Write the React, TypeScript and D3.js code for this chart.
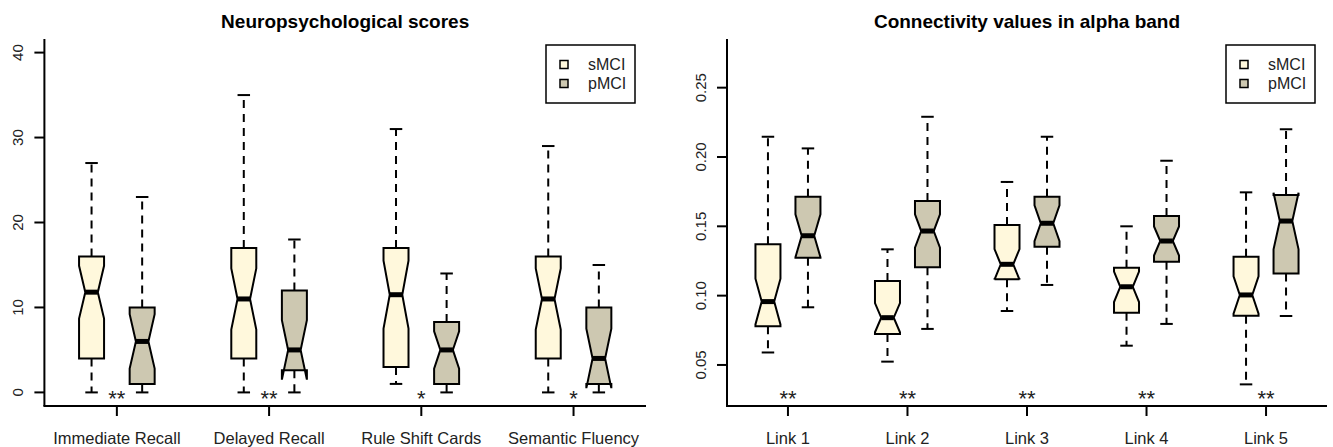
import * as d3 from "d3";
import React, { useEffect } from "react";

// stats per box: [whiskerLow, q1, median, q3, whiskerHigh, notchHalf]
const neuroCategories = ["Immediate Recall", "Delayed Recall", "Rule Shift Cards", "Semantic Fluency"];
const neuroSMCI = [
  [0, 4, 11.8, 16, 27, 3.1],
  [0, 4, 11, 17, 35, 3.6],
  [1, 3, 11.5, 17, 31, 4.0],
  [0, 4, 11, 16, 29, 3.6],
];
const neuroPMCI = [
  [0, 1, 6, 10, 23, 3.2],
  [0, 2.6, 5, 12, 18, 3.5],
  [0, 1, 5, 8.3, 14, 2.2],
  [0, 1, 4, 10, 15, 3.5],
];
const neuroStars = ["**", "**", "*", "*"];
const neuroTicks = [0, 10, 20, 30, 40];

const alphaCategories = ["Link 1", "Link 2", "Link 3", "Link 4", "Link 5"];
const alphaSMCI = [
  [0.059, 0.078, 0.0957, 0.137, 0.2146, 0.0165],
  [0.0524, 0.0724, 0.0841, 0.1106, 0.1334, 0.0105],
  [0.0889, 0.1118, 0.1226, 0.151, 0.182, 0.011],
  [0.0639, 0.0877, 0.1064, 0.1201, 0.15, 0.011],
  [0.036, 0.0855, 0.1005, 0.1281, 0.1745, 0.0135],
];
const alphaPMCI = [
  [0.0916, 0.1274, 0.1432, 0.1713, 0.2062, 0.0155],
  [0.076, 0.1204, 0.1466, 0.1682, 0.229, 0.012],
  [0.1077, 0.1353, 0.1522, 0.1713, 0.2146, 0.013],
  [0.0796, 0.1245, 0.1394, 0.1574, 0.1973, 0.0105],
  [0.0853, 0.116, 0.1538, 0.1726, 0.22, 0.0204],
];
const alphaStars = ["**", "**", "**", "**", "**"];
const alphaTicks = [0.05, 0.1, 0.15, 0.2, 0.25];

const groups = ["sMCI", "pMCI"];
const colors = ["#FFF8DC", "#CDC8B1"];
const FONT = "'Liberation Sans', Arial, Helvetica, sans-serif";

interface PanelProps {
  title: string;
  categories: string[];
  series: number[][][];
  stars: string[];
  ticks: number[];
  tickFormat: (v: number) => string;
  domain: [number, number];
  left: number;
  right: number;
  padding: number;
  offset: number;
  legendX: number;
}

const Panel: React.FC<PanelProps> = ({
  title, categories, series, stars, ticks, tickFormat, domain, left, right, padding, offset, legendX,
}) => {
  const top = 39;
  const bottom = 406;
  const x = d3.scalePoint<string>().domain(categories).range([left, right]).padding(padding);
  const y = d3.scaleLinear().domain(domain).range([bottom, top]);
  const half = 12.5;

  const boxPath = (cx: number, s: number[]) => {
    const [, q1, med, q3, , n] = s;
    const pts: [number, number][] = [
      [cx - half, y(q1)],
      [cx - half, y(med - n)],
      [cx - half / 2, y(med)],
      [cx - half, y(med + n)],
      [cx - half, y(q3)],
      [cx + half, y(q3)],
      [cx + half, y(med + n)],
      [cx + half / 2, y(med)],
      [cx + half, y(med - n)],
      [cx + half, y(q1)],
    ];
    return d3.line()(pts) + "Z";
  };

  return (
    <g>
      <text x={(left + right) / 2} y={28} textAnchor="middle" fontFamily={FONT} fontWeight="bold" fontSize={19}>
        {title}
      </text>
      {/* axes */}
      <line x1={left} x2={left} y1={top} y2={bottom} stroke="#000" strokeWidth={2} />
      <line x1={left - 1} x2={right} y1={bottom} y2={bottom} stroke="#000" strokeWidth={2} />
      {ticks.map((t) => (
        <g key={t}>
          <line x1={left - 10} x2={left} y1={y(t)} y2={y(t)} stroke="#000" strokeWidth={2} />
          <text
            transform={`translate(${left - 21},${y(t)}) rotate(-90)`}
            textAnchor="middle"
            fontFamily={FONT}
            fontSize={15}
            fill="#222"
          >
            {tickFormat(t)}
          </text>
        </g>
      ))}
      {categories.map((c) => (
        <g key={c}>
          <line x1={x(c)} x2={x(c)} y1={bottom} y2={bottom + 10} stroke="#000" strokeWidth={2} />
          <text x={x(c)} y={444} textAnchor="middle" fontFamily={FONT} fontSize={16.5} fill="#222">
            {c}
          </text>
        </g>
      ))}
      {/* boxes */}
      {categories.map((c, i) =>
        series.map((ser, g) => {
          const s = ser[i];
          const cx = (x(c) as number) + (g === 0 ? -offset : offset);
          return (
            <g key={c + g}>
              <line x1={cx} x2={cx} y1={y(s[3])} y2={y(s[4])} stroke="#000" strokeWidth={2} strokeDasharray="8,6" />
              <line x1={cx} x2={cx} y1={y(s[1])} y2={y(s[0])} stroke="#000" strokeWidth={2} strokeDasharray="8,6" />
              <line x1={cx - half / 2} x2={cx + half / 2} y1={y(s[4])} y2={y(s[4])} stroke="#000" strokeWidth={2} />
              <line x1={cx - half / 2} x2={cx + half / 2} y1={y(s[0])} y2={y(s[0])} stroke="#000" strokeWidth={2} />
              <path d={boxPath(cx, s)} fill={colors[g]} stroke="#000" strokeWidth={2} strokeLinejoin="miter" />
              <line x1={cx - half / 2} x2={cx + half / 2} y1={y(s[2])} y2={y(s[2])} stroke="#000" strokeWidth={5} />
            </g>
          );
        }),
      )}
      {categories.map((c, i) => (
        <text key={"s" + c} x={x(c)} y={406} textAnchor="middle" fontFamily={FONT} fontSize={22} fill="#222">
          {stars[i]}
        </text>
      ))}
      {/* legend */}
      <rect x={legendX} y={45} width={89} height={58} fill="#fff" stroke="#000" strokeWidth={1.5} />
      {groups.map((gname, g) => (
        <g key={gname}>
          <rect x={legendX + 14} y={60.5 + g * 19} width={8} height={8} fill={colors[g]} stroke="#000" strokeWidth={1.5} />
          <text x={legendX + 42} y={64.5 + g * 19} dominantBaseline="central" fontFamily={FONT} fontSize={16} fill="#222">
            {gname}
          </text>
        </g>
      ))}
    </g>
  );
};

export default function App() {
  useEffect(() => {
    document.body.style.margin = "0";
  }, []);
  return (
    <svg width={1333} height={447} style={{ display: "block", background: "#fff" }}>
      <Panel
        title="Neuropsychological scores"
        categories={neuroCategories}
        series={[neuroSMCI, neuroPMCI]}
        stars={neuroStars}
        ticks={neuroTicks}
        tickFormat={(v) => String(v)}
        domain={[-1.6, 41.6]}
        left={44.4}
        right={646}
        padding={0.476}
        offset={25.3}
        legendX={546}
      />
      <Panel
        title="Connectivity values in alpha band"
        categories={alphaCategories}
        series={[alphaSMCI, alphaPMCI]}
        stars={alphaStars}
        ticks={alphaTicks}
        tickFormat={(v) => d3.format(".2f")(v)}
        domain={[0.0204, 0.2851]}
        left={727}
        right={1327}
        padding={0.51}
        offset={20}
        legendX={1226}
      />
    </svg>
  );
}
